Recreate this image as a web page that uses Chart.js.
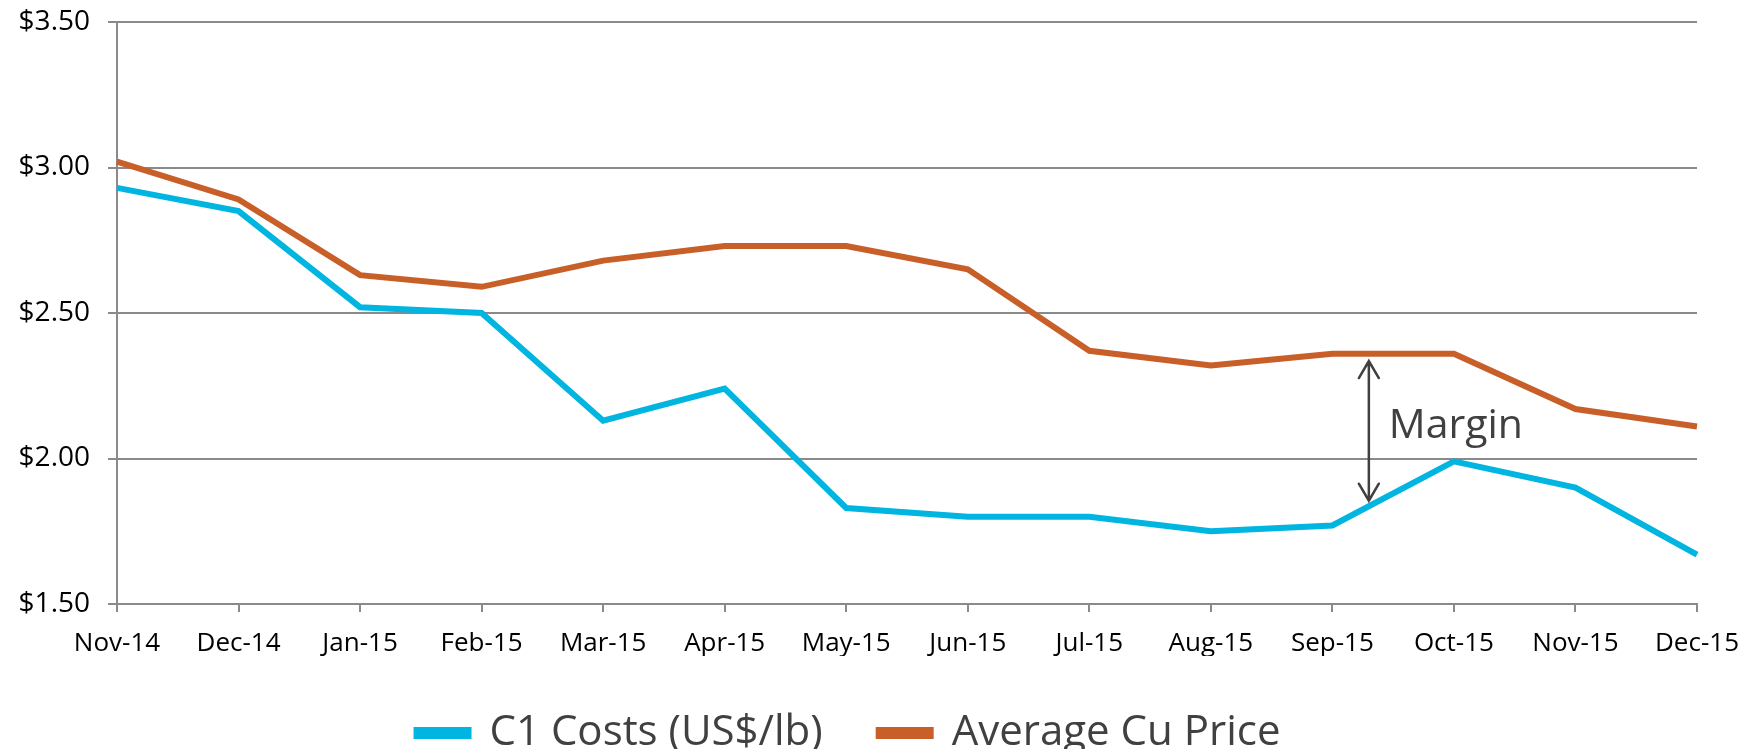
<!DOCTYPE html>
<html>
<head>
<meta charset="utf-8">
<script src="https://cdn.jsdelivr.net/npm/chart.js@4/dist/chart.umd.min.js"></script>
<style>
    html, body { margin: 0; padding: 0; background: #fff; }
    #wrap { width: 1752px; height: 749px; }
</style>
</head>
<body>
<div id="wrap"><canvas id="marginChart"></canvas></div>
<script>
// Data
const months = ['Nov-14', 'Dec-14', 'Jan-15', 'Feb-15', 'Mar-15', 'Apr-15', 'May-15',
                'Jun-15', 'Jul-15', 'Aug-15', 'Sep-15', 'Oct-15', 'Nov-15', 'Dec-15'];
const c1Costs = [2.93, 2.85, 2.52, 2.50, 2.13, 2.24, 1.83, 1.80, 1.80, 1.75, 1.77, 1.99, 1.90, 1.67];
const cuPrice = [3.02, 2.89, 2.63, 2.59, 2.68, 2.73, 2.73, 2.65, 2.37, 2.32, 2.36, 2.36, 2.17, 2.11];
const yTicks = [1.5, 2.0, 2.5, 3.0, 3.5];

const FONT = "'Open Sans', 'Noto Sans', sans-serif";
const GRID = '#8a8a8a';

// Margin arrow + label between the two lines
const marginNote = {
    id: 'marginNote',
    afterDatasetsDraw(chart) {
        const { ctx, scales: { x, y } } = chart;
        const ax = x.getPixelForValue(10.3);
        const top = y.getPixelForValue(2.335);
        const bot = y.getPixelForValue(1.855);
        ctx.save();
        ctx.strokeStyle = '#404040';
        ctx.lineWidth = 2.5;
        ctx.lineCap = 'round';
        ctx.beginPath();
        ctx.moveTo(ax, top);
        ctx.lineTo(ax, bot);
        ctx.moveTo(ax - 10, top + 17);
        ctx.lineTo(ax, top);
        ctx.lineTo(ax + 10, top + 17);
        ctx.moveTo(ax - 10, bot - 17);
        ctx.lineTo(ax, bot);
        ctx.lineTo(ax + 10, bot - 17);
        ctx.stroke();
        ctx.fillStyle = '#404040';
        ctx.font = '41px ' + FONT;
        ctx.textBaseline = 'alphabetic';
        ctx.fillText('Margin', ax + 20, y.getPixelForValue(2.07));
        ctx.restore();
    }
};

new Chart(document.getElementById('marginChart').getContext('2d'), {
    type: 'line',
    data: {
        labels: months,
        datasets: [{
            label: 'C1 Costs (US$/lb)',
            data: c1Costs,
            borderColor: '#00b5e0',
            backgroundColor: '#00b5e0',
            borderWidth: 6,
            pointRadius: 0,
            tension: 0
        }, {
            label: 'Average Cu Price',
            data: cuPrice,
            borderColor: '#c95f28',
            backgroundColor: '#c95f28',
            borderWidth: 6,
            pointRadius: 0,
            tension: 0
        }]
    },
    options: {
        responsive: true,
        maintainAspectRatio: false,
        animation: false,
        layout: {
            padding: { left: 0, right: 55, top: 0, bottom: -15 }
        },
        plugins: {
            tooltip: { enabled: false },
            legend: {
                position: 'bottom',
                labels: {
                    color: '#404040',
                    font: { family: FONT, size: 42 },
                    boxWidth: 52,
                    boxHeight: 6,
                    padding: 56
                }
            }
        },
        scales: {
            x: {
                offset: false,
                grid: {
                    drawOnChartArea: false,
                    drawTicks: true,
                    tickLength: 8,
                    color: GRID,
                    lineWidth: 2
                },
                border: { color: GRID, width: 2 },
                ticks: {
                    color: '#000',
                    font: { family: FONT, size: 26 },
                    padding: 16,
                    maxRotation: 0,
                    autoSkip: false
                },
                afterFit(scale) {
                    scale.height = 52;
                    scale.paddingLeft = 0;
                    scale.paddingRight = 0;
                }
            },
            y: {
                min: 1.5,
                max: 3.5,
                afterBuildTicks(scale) {
                    scale.ticks = yTicks.map(v => ({ value: v }));
                },
                grid: {
                    color: GRID,
                    lineWidth: 2,
                    tickLength: 9
                },
                border: { color: GRID, width: 2 },
                ticks: {
                    color: '#000',
                    font: { family: FONT, size: 28 },
                    padding: 18,
                    callback: v => '$' + Number(v).toFixed(2)
                },
                afterFit(scale) {
                    scale.width = 117;
                    scale.paddingTop = 22;
                    scale.paddingBottom = 0;
                }
            }
        }
    },
    plugins: [marginNote]
});
</script>
</body>
</html>
